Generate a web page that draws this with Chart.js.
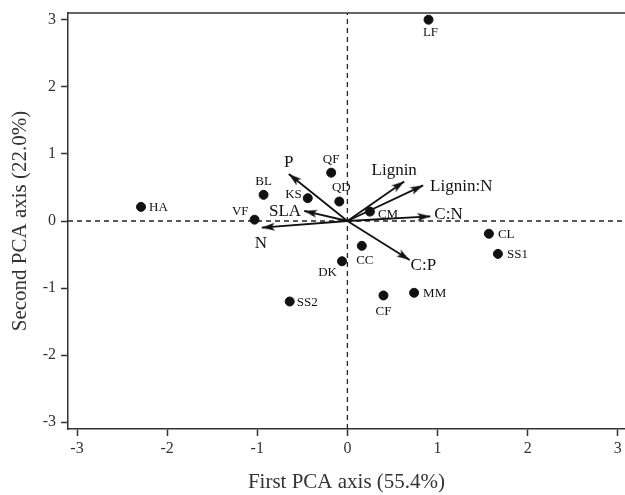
<!DOCTYPE html>
<html>
<head>
    <title>PCA biplot</title>
    <style>
        body { margin: 0; background: #fff; }
        #wrap { width: 625px; height: 495px; position: relative; }
    </style>
</head>
<body>
    <div id="wrap"><canvas id="pca"></canvas></div>
    <script src="https://cdn.jsdelivr.net/npm/chart.js"></script>
    <script>
        // site scores
        const siteNames = ['LF', 'HA', 'VF', 'BL', 'KS', 'QF', 'QD', 'CM', 'CC', 'DK', 'CL', 'SS1', 'MM', 'CF', 'SS2'];
        const sitePc1 = [0.90, -2.29, -1.03, -0.93, -0.44, -0.18, -0.09, 0.25, 0.16, -0.06, 1.57, 1.67, 0.74, 0.40, -0.64];
        const sitePc2 = [3.00, 0.21, 0.02, 0.39, 0.34, 0.72, 0.29, 0.14, -0.37, -0.60, -0.19, -0.49, -1.07, -1.11, -1.20];

        // trait loadings (arrows)
        const traitNames = ['P', 'SLA', 'N', 'Lignin', 'Lignin:N', 'C:N', 'C:P'];
        const traitPc1 = [-0.65, -0.48, -0.95, 0.63, 0.84, 0.92, 0.69];
        const traitPc2 = [0.70, 0.15, -0.10, 0.59, 0.53, 0.07, -0.58];

        const xTicks = [-3, -2, -1, 0, 1, 2, 3];
        const yTicks = [-3, -2, -1, 0, 1, 2, 3];

        // where each label sits relative to its mark (pixels)
        const siteLabelPos = {
            LF: [2, 13, 'center'], HA: [8, 1, 'left'], VF: [-6, -8, 'right'], BL: [0, -13, 'center'],
            KS: [-6, -4, 'right'], QF: [0, -13, 'center'], QD: [2, -14, 'center'], CM: [8, 3, 'left'],
            CC: [3, 15, 'center'], DK: [-5, 11, 'right'], CL: [9, 1, 'left'], SS1: [9, 1, 'left'],
            MM: [9, 1, 'left'], CF: [0, 16, 'center'], SS2: [7, 1, 'left']
        };
        const traitLabelPos = {
            'P': [0, -12, 'center'], 'SLA': [-3, 1, 'right'], 'N': [-1, 16, 'center'],
            'Lignin': [-10, -11, 'center'], 'Lignin:N': [7, 1, 'left'], 'C:N': [4, -2, 'left'], 'C:P': [1, 6, 'left']
        };

        const serif = "'Liberation Serif', 'Times New Roman', serif";
        const ink = '#111';
        const axisInk = '#333';

        // arrowhead sprite: tip sits at the centre of the canvas, pointing right
        function makeArrowHead() {
            const len = 13, half = 4;
            const c = document.createElement('canvas');
            c.width = len * 2;
            c.height = half * 2 + 2;
            const g = c.getContext('2d');
            g.fillStyle = ink;
            g.beginPath();
            g.moveTo(len, c.height / 2);
            g.lineTo(0, c.height / 2 - half);
            g.lineTo(3, c.height / 2);
            g.lineTo(0, c.height / 2 + half);
            g.closePath();
            g.fill();
            return c;
        }
        const arrowHead = makeArrowHead();

        function arrowAngle(ctx) {
            const chart = ctx.chart;
            const pt = ctx.dataset.data[ctx.dataIndex];
            const xs = chart.scales.x, ys = chart.scales.y;
            if (!xs || !ys) return 0;
            const dx = xs.getPixelForValue(pt.x) - xs.getPixelForValue(0);
            const dy = ys.getPixelForValue(pt.y) - ys.getPixelForValue(0);
            return Math.atan2(dy, dx) * 180 / Math.PI;
        }

        const datasets = [];
        datasets.push({
            label: 'sites',
            data: siteNames.map((n, i) => ({ x: sitePc1[i], y: sitePc2[i] })),
            backgroundColor: ink,
            borderColor: ink,
            pointRadius: 4.5,
            showLine: false
        });
        traitNames.forEach((n, i) => {
            datasets.push({
                label: n,
                data: [{ x: 0, y: 0 }, { x: traitPc1[i], y: traitPc2[i] }],
                showLine: true,
                borderColor: ink,
                borderWidth: 1.8,
                pointStyle: ctx => ctx.dataIndex === 1 ? arrowHead : 'circle',
                pointRadius: ctx => ctx.dataIndex === 1 ? 13 : 0,
                pointRotation: arrowAngle,
                backgroundColor: ink
            });
        });
        // dashed zero lines
        datasets.push({
            label: 'h0',
            data: [{ x: -3.1, y: 0 }, { x: 3.08, y: 0 }],
            showLine: true, borderColor: '#222', borderWidth: 1.3, borderDash: [5, 4], pointRadius: 0
        });
        datasets.push({
            label: 'v0',
            data: [{ x: 0, y: -3.1 }, { x: 0, y: 3.1 }],
            showLine: true, borderColor: '#222', borderWidth: 1.3, borderDash: [5, 4], pointRadius: 0
        });

        const labelPlugin = {
            id: 'pcaLabels',
            afterDatasetsDraw(chart) {
                const c = chart.ctx;
                const xs = chart.scales.x, ys = chart.scales.y;
                c.save();
                c.fillStyle = ink;
                c.textBaseline = 'middle';
                c.font = '13px ' + serif;
                siteNames.forEach((n, i) => {
                    const p = siteLabelPos[n];
                    c.textAlign = p[2];
                    c.fillText(n, xs.getPixelForValue(sitePc1[i]) + p[0], ys.getPixelForValue(sitePc2[i]) + p[1]);
                });
                c.font = '17px ' + serif;
                traitNames.forEach((n, i) => {
                    const p = traitLabelPos[n];
                    c.textAlign = p[2];
                    c.fillText(n, xs.getPixelForValue(traitPc1[i]) + p[0], ys.getPixelForValue(traitPc2[i]) + p[1]);
                });
                // top frame line
                const a = chart.chartArea;
                c.strokeStyle = axisInk;
                c.lineWidth = 1.5;
                c.beginPath();
                c.moveTo(a.left, a.top);
                c.lineTo(a.right, a.top);
                c.stroke();
                c.restore();
            }
        };

        new Chart(document.getElementById('pca').getContext('2d'), {
            type: 'scatter',
            data: { datasets: datasets },
            plugins: [labelPlugin],
            options: {
                responsive: true,
                maintainAspectRatio: false,
                animation: false,
                layout: { autoPadding: false, padding: { top: 13, right: 0, left: 0, bottom: 0 } },
                plugins: { legend: { display: false }, tooltip: { enabled: false } },
                scales: {
                    x: {
                        type: 'linear',
                        min: -3.1,
                        max: 3.08,
                        afterBuildTicks: axis => { axis.ticks = xTicks.map(v => ({ value: v })); },
                        afterFit: axis => {
                            axis.height = 66;
                            axis.paddingLeft = 0;
                            axis.paddingRight = 0;
                        },
                        grid: { drawOnChartArea: false, tickLength: 7, tickWidth: 1.5, tickColor: axisInk },
                        border: { color: axisInk, width: 1.5 },
                        ticks: { color: axisInk, padding: 3, font: { family: serif, size: 16 } },
                        title: {
                            display: true,
                            text: 'First PCA axis (55.4%)',
                            color: axisInk,
                            font: { family: serif, size: 21 },
                            padding: { top: 0, bottom: 0 }
                        }
                    },
                    y: {
                        type: 'linear',
                        min: -3.1,
                        max: 3.1,
                        afterBuildTicks: axis => { axis.ticks = yTicks.map(v => ({ value: v })); },
                        afterFit: axis => {
                            axis.width = 68;
                            axis.paddingTop = 0;
                            axis.paddingBottom = 0;
                        },
                        grid: { drawOnChartArea: false, tickLength: 7, tickWidth: 1.5, tickColor: axisInk },
                        border: { color: axisInk, width: 1.5 },
                        ticks: { color: axisInk, padding: 5, font: { family: serif, size: 16 } },
                        title: {
                            display: true,
                            text: 'Second PCA axis (22.0%)',
                            color: axisInk,
                            font: { family: serif, size: 21 },
                            padding: { top: 8, bottom: 0 }
                        }
                    }
                }
            }
        });
    </script>
</body>
</html>
